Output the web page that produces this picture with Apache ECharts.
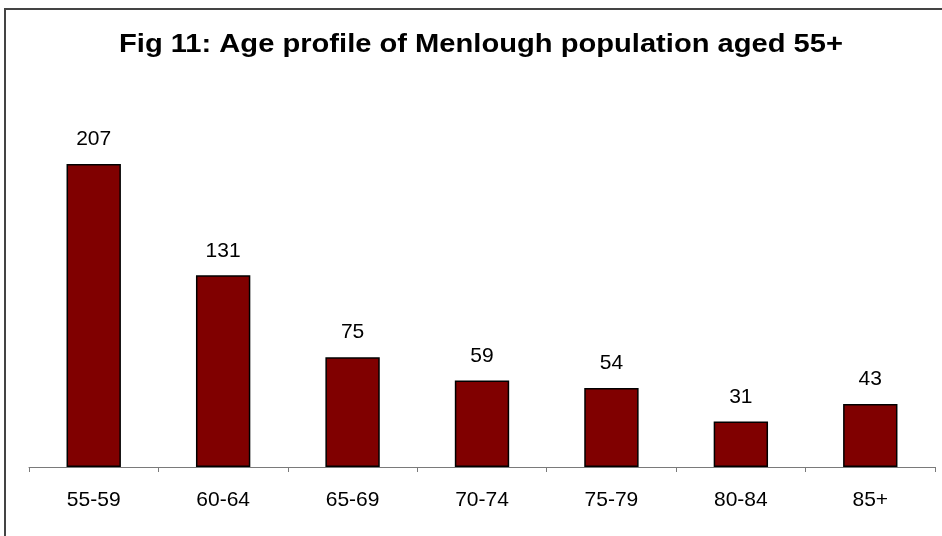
<!DOCTYPE html>
<html>
<head>
<meta charset="utf-8">
<script src="https://cdn.jsdelivr.net/npm/echarts@6/dist/echarts.min.js"></script>
<style>
  html, body { margin: 0; padding: 0; background: #fff; }
  #chart { width: 942px; height: 536px; }
</style>
</head>
<body>
<div id="chart"></div>
<script>
  // age bands and counts
  const ageGroups = ['55-59', '60-64', '65-69', '70-74', '75-79', '80-84', '85+'];
  const population = [207, 131, 75, 59, 54, 31, 43];
  const titleText = 'Fig 11: Age profile of Menlough population aged 55+';

  const chart = echarts.init(document.getElementById('chart'));
  const option = {
    animation: false,
    backgroundColor: '#fff',
    graphic: [
      {
        type: 'rect',
        shape: { x: 5, y: 9, width: 960, height: 560 },
        style: { fill: 'none', stroke: '#444', lineWidth: 2 },
        silent: true
      },
      {
        // the original title is spaced out wider than plain Arial Bold
        type: 'text',
        x: 481,
        y: 45,
        scaleX: 1.12,
        style: {
          text: titleText,
          align: 'center',
          verticalAlign: 'middle',
          fontFamily: 'Liberation Sans, Arial',
          fontWeight: 'bold',
          fontSize: 26,
          fill: '#000'
        },
        silent: true
      }
    ],
    grid: { left: 29, right: 7, top: 101, bottom: 69 },
    xAxis: {
      type: 'category',
      data: ageGroups,
      axisLine: { lineStyle: { color: '#7a7a7a', width: 1 } },
      axisTick: { show: true, length: 5, lineStyle: { color: '#7a7a7a' } },
      axisLabel: {
        fontFamily: 'Liberation Sans, Arial',
        fontSize: 21,
        color: '#000',
        margin: 23
      }
    },
    yAxis: {
      type: 'value',
      min: 0,
      max: 250,
      show: false
    },
    series: [
      {
        type: 'bar',
        data: population,
        barWidth: '42%',
        itemStyle: { color: '#800000', borderColor: '#000', borderWidth: 1.5 },
        label: {
          show: true,
          position: 'top',
          distance: 14,
          fontFamily: 'Liberation Sans, Arial',
          fontSize: 21,
          color: '#000'
        }
      }
    ]
  };
  chart.setOption(option);
</script>
</body>
</html>
